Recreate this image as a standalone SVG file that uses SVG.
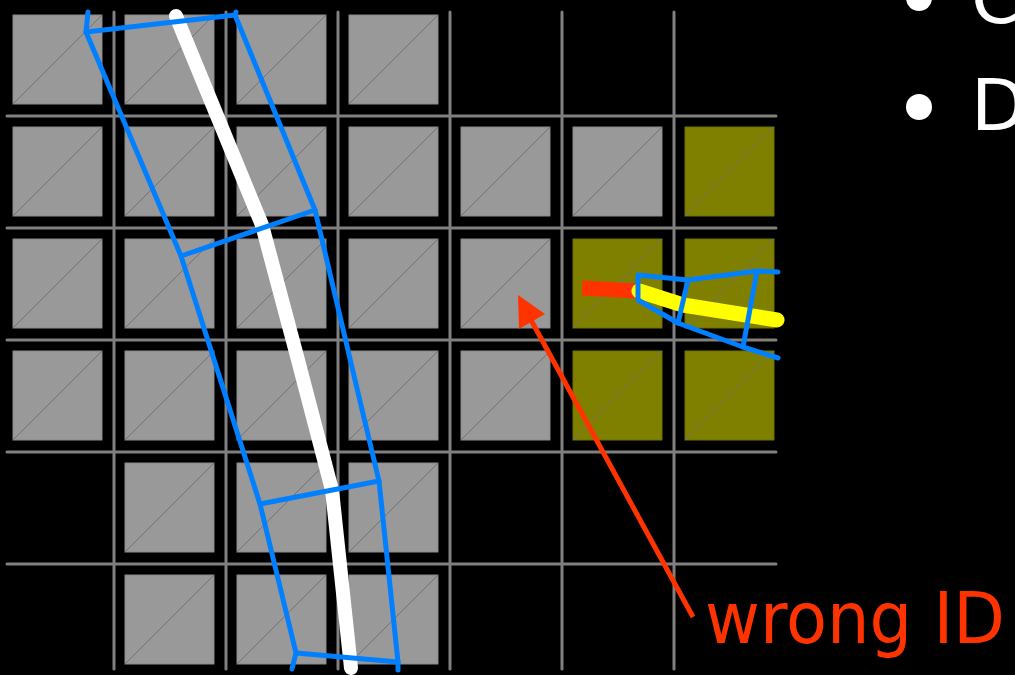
<svg xmlns="http://www.w3.org/2000/svg" width="1015" height="675" viewBox="0 0 1015 675">
<defs>
<style>
.g{fill:#999999;stroke:#8a8a8a;stroke-width:1}
.o{fill:#808000;stroke:#707000;stroke-width:1}
.d{stroke:#737373;stroke-width:1;fill:none}
.grid line{stroke:#808080;stroke-width:3;stroke-linecap:round}
.blue{fill:none;stroke:#0080ff;stroke-width:5;stroke-linejoin:round;stroke-linecap:round}
.txt{font-family:"DejaVu Sans","Verdana",sans-serif;font-size:72px}
</style>
<g id="cellG"><rect class="g" x="0" y="0" width="89" height="89"/><line class="d" x1="0" y1="89" x2="89" y2="0"/></g>
<g id="cellO"><rect class="o" x="0" y="0" width="89" height="89"/><line class="d" x1="0" y1="89" x2="89" y2="0" stroke="#606000"/></g>
<marker id="ah" viewBox="0 0 10 10" refX="9" refY="5" markerWidth="6" markerHeight="6" orient="auto" markerUnits="strokeWidth"><path d="M0,0 L10,5 L0,10 z" fill="#ff3300"/></marker>
</defs>
<rect x="0" y="0" width="1015" height="675" fill="#000"/>
<g id="cells">
<use href="#cellG" x="13" y="15"/><use href="#cellG" x="125" y="15"/><use href="#cellG" x="237" y="15"/><use href="#cellG" x="349" y="15"/>
<use href="#cellG" x="13" y="127"/><use href="#cellG" x="125" y="127"/><use href="#cellG" x="237" y="127"/><use href="#cellG" x="349" y="127"/><use href="#cellG" x="461" y="127"/><use href="#cellG" x="573" y="127"/><use href="#cellO" x="685" y="127"/>
<use href="#cellG" x="13" y="239"/><use href="#cellG" x="125" y="239"/><use href="#cellG" x="237" y="239"/><use href="#cellG" x="349" y="239"/><use href="#cellG" x="461" y="239"/><use href="#cellO" x="573" y="239"/><use href="#cellO" x="685" y="239"/>
<use href="#cellG" x="13" y="351"/><use href="#cellG" x="125" y="351"/><use href="#cellG" x="237" y="351"/><use href="#cellG" x="349" y="351"/><use href="#cellG" x="461" y="351"/><use href="#cellO" x="573" y="351"/><use href="#cellO" x="685" y="351"/>
<use href="#cellG" x="125" y="463"/><use href="#cellG" x="237" y="463"/><use href="#cellG" x="349" y="463"/>
<use href="#cellG" x="125" y="575"/><use href="#cellG" x="237" y="575"/><use href="#cellG" x="349" y="575"/>
</g>
<g id="grid" class="grid">
<line x1="114" y1="12" x2="114" y2="669"/><line x1="226" y1="12" x2="226" y2="669"/><line x1="338" y1="12" x2="338" y2="669"/><line x1="450" y1="12" x2="450" y2="669"/><line x1="562" y1="12" x2="562" y2="669"/><line x1="674" y1="12" x2="674" y2="669"/>
<line x1="7" y1="116" x2="776" y2="116"/><line x1="7" y1="228" x2="776" y2="228"/><line x1="7" y1="340" x2="776" y2="340"/><line x1="7" y1="452" x2="776" y2="452"/><line x1="7" y1="564" x2="776" y2="564"/>
</g>
<g id="track-left">
<polyline points="176,16 262,225 298,360 332,490 351,668" fill="none" stroke="#ffffff" stroke-width="14" stroke-linecap="round" stroke-linejoin="round"/>
<polyline class="blue" points="88,12 86,32 181,256 260,504 296,653 292,669"/>
<polyline class="blue" points="236,12 235,15 315,210 355,380 379,481 398,662 398,670"/>
<polyline class="blue" points="86,32 235,15"/>
<polyline class="blue" points="181,256 315,210"/>
<polyline class="blue" points="260,504 379,481"/>
<polyline class="blue" points="296,653 398,662"/>
</g>
<g id="track-right">
<line x1="582" y1="288" x2="636" y2="291" stroke="#ff3300" stroke-width="15"/>
<polyline points="639,291 683,305 777,320" fill="none" stroke="#ffff00" stroke-width="15" stroke-linecap="round" stroke-linejoin="round"/>
<polyline class="blue" points="778,272 757,271 688,280 638,275 638,300 678,323 743,347 778,358"/>
<polyline class="blue" points="688,280 678,323"/>
<polyline class="blue" points="757,271 743,347"/>
</g>
<g id="connectors">
<line x1="693" y1="617" x2="531" y2="320" stroke="#ff3300" stroke-width="5"/>
<path d="M518,295 L545,314 L519,329 z" fill="#ff3300"/>
</g>
<g id="label">
<text class="txt" x="705" y="643" fill="#ff3300" textLength="300" lengthAdjust="spacingAndGlyphs">wrong ID</text>
</g>
<g id="bullets">
<circle cx="919" cy="-2" r="13" fill="#ffffff"/>
<text class="txt" x="971" y="23" fill="#ffffff">C</text>
<circle cx="919" cy="107" r="13" fill="#ffffff"/>
<text class="txt" x="971" y="130" fill="#ffffff">D</text>
</g>
</svg>
